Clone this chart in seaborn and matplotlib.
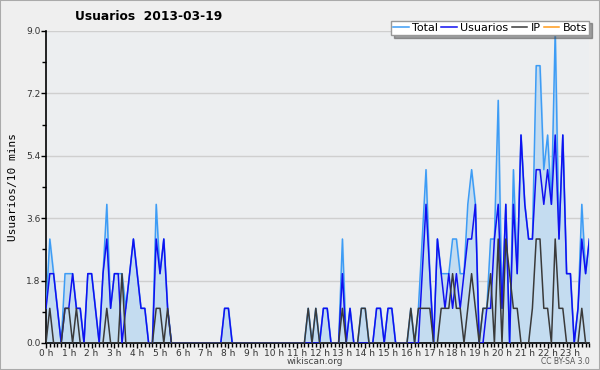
import numpy as np
import pandas as pd
import matplotlib
matplotlib.use('Agg')
import matplotlib.pyplot as plt
import seaborn as sns
from matplotlib.patches import Rectangle
from matplotlib.ticker import MultipleLocator, FixedLocator

# values per 10-minute slot, one row of 6 per hour
total = [1, 3, 2, 1, 0, 2,  2, 2, 1, 1, 0, 2,  2, 1, 0, 2, 4, 1,  2, 2, 2, 1, 2, 3,
         2, 1, 1, 0, 0, 4,  2, 3, 1, 0, 0, 0,  0, 0, 0, 0, 0, 0,  0, 0, 0, 0, 0, 1,
         1, 0, 0, 0, 0, 0,  0, 0, 0, 0, 0, 0,  0, 0, 0, 0, 0, 0,  0, 0, 0, 1, 0, 1,
         0, 1, 1, 0, 0, 0,  3, 0, 1, 0, 0, 1,  1, 0, 0, 1, 1, 0,  1, 1, 0, 0, 0, 0,
         1, 0, 1, 3, 5, 2,  0, 3, 2, 2, 2, 3,  3, 2, 2, 4, 5, 4,  0, 1, 1, 3, 3, 7,
         1, 4, 0, 5, 2, 6,  4, 3, 3, 8, 8, 5,  6, 4, 9, 3, 6, 2,  2, 0, 1, 4, 2, 3]
usuarios = [1, 2, 2, 1, 0, 1,  1, 2, 1, 1, 0, 2,  2, 1, 0, 2, 3, 1,  2, 2, 0, 1, 2, 3,
            2, 1, 1, 0, 0, 3,  2, 3, 1, 0, 0, 0,  0, 0, 0, 0, 0, 0,  0, 0, 0, 0, 0, 1,
            1, 0, 0, 0, 0, 0,  0, 0, 0, 0, 0, 0,  0, 0, 0, 0, 0, 0,  0, 0, 0, 0, 0, 0,
            0, 1, 1, 0, 0, 0,  2, 0, 1, 0, 0, 0,  0, 0, 0, 1, 1, 0,  1, 1, 0, 0, 0, 0,
            0, 0, 0, 2, 4, 2,  0, 3, 2, 1, 2, 1,  2, 1, 2, 3, 3, 4,  0, 0, 1, 1, 3, 4,
            1, 4, 0, 4, 2, 6,  4, 3, 3, 5, 5, 4,  5, 4, 6, 3, 6, 2,  2, 0, 1, 3, 2, 3]
ip = [0, 1, 0, 0, 0, 1,  1, 0, 1, 0, 0, 0,  0, 0, 0, 0, 1, 0,  0, 0, 2, 0, 0, 0,
      0, 0, 0, 0, 0, 1,  1, 0, 1, 0, 0, 0,  0, 0, 0, 0, 0, 0,  0, 0, 0, 0, 0, 0,
      0, 0, 0, 0, 0, 0,  0, 0, 0, 0, 0, 0,  0, 0, 0, 0, 0, 0,  0, 0, 0, 1, 0, 1,
      0, 0, 0, 0, 0, 0,  1, 0, 0, 0, 0, 1,  1, 0, 0, 0, 0, 0,  0, 0, 0, 0, 0, 0,
      1, 0, 1, 1, 1, 1,  0, 0, 1, 1, 1, 2,  1, 1, 0, 1, 2, 1,  0, 1, 1, 2, 0, 3,
      0, 3, 2, 1, 1, 0,  0, 0, 1, 3, 3, 1,  1, 0, 3, 1, 1, 0,  0, 0, 0, 1, 0, 0]
bots = [0] * 144
hour_labels = [f'{h} h' for h in range(24)]
y_ticks = [0.0, 1.8, 3.6, 5.4, 7.2, 9.0]

df = pd.DataFrame({'slot': np.arange(144), 'Total': total, 'Usuarios': usuarios,
                   'IP': ip, 'Bots': bots})

colors = {'Total': '#3d9cf5', 'Usuarios': '#1010f0', 'IP': '#3a3a3a', 'Bots': '#ff9a1a'}
zorders = {'Bots': 0.6, 'Total': 3, 'Usuarios': 3.2, 'IP': 3.4}

fig = plt.figure(figsize=(6, 3.7), dpi=100, facecolor='#efefef')
ax = fig.add_axes([46 / 600, 27 / 370, 543.4 / 600, 312 / 370])
ax.set_facecolor('#eceef0')

ax.fill_between(df['slot'], df['Total'], color='#c4dcf0', zorder=1)
for name in ['Bots', 'Total', 'Usuarios', 'IP']:
    sns.lineplot(data=df, x='slot', y=name, ax=ax, color=colors[name], lw=1.1,
                 label=name, zorder=zorders[name])

ax.set_xlim(0, 143)
ax.set_ylim(0, 9)
ax.yaxis.set_major_locator(FixedLocator(y_ticks))
ax.yaxis.set_minor_locator(MultipleLocator(0.9))
ax.set_yticklabels([f'{v:.1f}' for v in y_ticks])
ax.xaxis.set_major_locator(FixedLocator(np.arange(0, 144, 6)))
ax.xaxis.set_minor_locator(MultipleLocator(1))
ax.set_xticklabels(hour_labels)
ax.grid(axis='y', color='#cfcfcf', lw=1, zorder=0)
ax.set_axisbelow(True)
for s in ['top', 'right']:
    ax.spines[s].set_visible(False)
for s in ['left', 'bottom']:
    ax.spines[s].set_color('black')
    ax.spines[s].set_linewidth(1.2)
ax.tick_params(axis='both', which='major', length=3.5, width=1, labelsize=6.5,
               colors='black', labelcolor='#333333', pad=0.5)
ax.tick_params(axis='both', which='minor', length=3, width=1, colors='black')
ax.set_xlabel('')
ax.set_ylabel('Usuarios/10 mins', family='DejaVu Sans Mono', fontsize=8, labelpad=6)

fig.text(75 / 600, 1 - 17 / 370, 'Usuarios  2013-03-19', fontsize=8.8,
         fontweight='bold', va='center', ha='left')
fig.text(315 / 600, 1 - 362 / 370, 'wikiscan.org', fontsize=6.5, color='#444444',
         ha='center', va='center')
fig.text(590 / 600, 1 - 362 / 370, 'CC BY-SA 3.0', fontsize=5.5, color='#555555',
         ha='right', va='center')

handles, labels = ax.get_legend_handles_labels()
order = ['Total', 'Usuarios', 'IP', 'Bots']
hmap = dict(zip(labels, handles))
leg = ax.legend([hmap[k] for k in order], order, ncol=4, loc='upper right',
                bbox_to_anchor=(595 / 600, 1 - 15 / 370), bbox_transform=fig.transFigure,
                fontsize=8, handlelength=1.4, handletextpad=0.3, columnspacing=0.3,
                borderpad=0.2, fancybox=False, shadow=True, framealpha=1)
leg.get_frame().set_edgecolor('#999999')

fig.patches.append(Rectangle((0, 0), 1, 1, transform=fig.transFigure, fill=False,
                             edgecolor='#aaaaaa', lw=1.5))
fig.savefig('out.png', dpi=100, facecolor=fig.get_facecolor())
